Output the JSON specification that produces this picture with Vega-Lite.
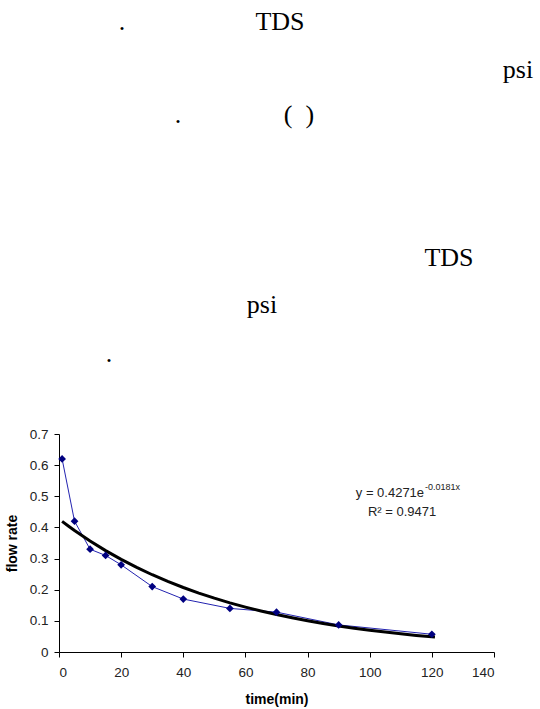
{
  "$schema": "https://vega.github.io/schema/vega-lite/v6.json",
  "background": "white",
  "padding": {"left": 5, "top": 0, "right": 0, "bottom": 0},
  "spacing": 47,
  "config": {
    "view": {"stroke": null},
    "axis": {
      "grid": false,
      "domainColor": "black",
      "domainWidth": 1,
      "tickColor": "black",
      "tickWidth": 1,
      "tickSize": 5,
      "labelFont": "Liberation Sans",
      "labelFontSize": 13.5,
      "labelColor": "#222222",
      "titleFont": "Liberation Sans",
      "titleFontSize": 14,
      "titleFontWeight": "bold",
      "titleColor": "black"
    }
  },
  "datasets": {
    "page": [
      {"text": ".", "col": 125, "line": 30},
      {"text": "TDS", "col": 283, "line": 30},
      {"text": "psi", "col": 521, "line": 78},
      {"text": ".", "col": 181, "line": 123},
      {"text": "(\u00a0\u00a0)", "col": 302, "line": 123},
      {"text": "TDS", "col": 452, "line": 266},
      {"text": "psi", "col": 265, "line": 313},
      {"text": ".", "col": 112, "line": 362}
    ],
    "flow": [
      {"time": 1, "rate": 0.62},
      {"time": 5, "rate": 0.42},
      {"time": 10, "rate": 0.33},
      {"time": 15, "rate": 0.31},
      {"time": 20, "rate": 0.28},
      {"time": 30, "rate": 0.21},
      {"time": 40, "rate": 0.17},
      {"time": 55, "rate": 0.14},
      {"time": 70, "rate": 0.128},
      {"time": 90, "rate": 0.087},
      {"time": 120, "rate": 0.057}
    ],
    "trend": [
      {"time": 1, "rate": 0.4194},
      {"time": 3, "rate": 0.4045},
      {"time": 5, "rate": 0.3901},
      {"time": 10, "rate": 0.3564},
      {"time": 15, "rate": 0.3256},
      {"time": 20, "rate": 0.2974},
      {"time": 25, "rate": 0.2717},
      {"time": 30, "rate": 0.2481},
      {"time": 35, "rate": 0.2267},
      {"time": 40, "rate": 0.2071},
      {"time": 45, "rate": 0.1891},
      {"time": 50, "rate": 0.1728},
      {"time": 55, "rate": 0.1578},
      {"time": 60, "rate": 0.1442},
      {"time": 65, "rate": 0.1317},
      {"time": 70, "rate": 0.1203},
      {"time": 75, "rate": 0.1099},
      {"time": 80, "rate": 0.1004},
      {"time": 85, "rate": 0.0917},
      {"time": 90, "rate": 0.0838},
      {"time": 95, "rate": 0.0765},
      {"time": 100, "rate": 0.0699},
      {"time": 105, "rate": 0.0639},
      {"time": 110, "rate": 0.0583},
      {"time": 115, "rate": 0.0533},
      {"time": 121, "rate": 0.0479}
    ],
    "eq": [
      {"part": "main", "text": "y = 0.4271e", "time": 117.5, "rate": 0.498},
      {"part": "sup", "text": "-0.0181x", "time": 117.8, "rate": 0.52},
      {"part": "r2", "text": "R\u00b2 = 0.9471", "time": 110.4, "rate": 0.437}
    ]
  },
  "vconcat": [
    {
      "width": 435,
      "height": 380,
      "data": {"name": "page"},
      "mark": {"type": "text", "font": "Liberation Serif", "fontSize": 26, "align": "center", "baseline": "alphabetic", "color": "black"},
      "encoding": {
        "x": {"field": "col", "type": "quantitative", "scale": {"domain": [62, 497], "nice": false, "zero": false}, "axis": null},
        "y": {"field": "line", "type": "quantitative", "scale": {"domain": [0, 380], "reverse": true, "nice": false, "zero": false}, "axis": null},
        "text": {"field": "text"}
      }
    },
    {
      "width": 435,
      "height": 218,
      "encoding": {
        "x": {
          "field": "time",
          "type": "quantitative",
          "scale": {"domain": [0, 140], "nice": false},
          "axis": {"title": "time(min)", "values": [0, 20, 40, 60, 80, 100, 120, 140], "labelPadding": 8, "titlePadding": 14, "format": "d"}
        },
        "y": {
          "field": "rate",
          "type": "quantitative",
          "scale": {"domain": [0, 0.7], "nice": false},
          "axis": {"title": "flow rate", "values": [0, 0.1, 0.2, 0.3, 0.4, 0.5, 0.6, 0.7], "format": "~g", "labelPadding": 6, "titlePadding": 10}
        }
      },
      "layer": [
        {
          "data": {"name": "flow"},
          "mark": {"type": "line", "color": "#2323b0", "strokeWidth": 1}
        },
        {
          "data": {"name": "trend"},
          "mark": {"type": "line", "color": "black", "strokeWidth": 3}
        },
        {
          "data": {"name": "flow"},
          "mark": {"type": "point", "shape": "diamond", "filled": true, "color": "#000080", "size": 60, "opacity": 1}
        },
        {
          "data": {"name": "eq"},
          "transform": [{"filter": "datum.part == 'main'"}],
          "mark": {"type": "text", "font": "Liberation Sans", "fontSize": 13, "align": "right", "baseline": "alphabetic", "color": "#222222"},
          "encoding": {"text": {"field": "text"}}
        },
        {
          "data": {"name": "eq"},
          "transform": [{"filter": "datum.part == 'sup'"}],
          "mark": {"type": "text", "font": "Liberation Sans", "fontSize": 9, "align": "left", "baseline": "alphabetic", "color": "#222222"},
          "encoding": {"text": {"field": "text"}}
        },
        {
          "data": {"name": "eq"},
          "transform": [{"filter": "datum.part == 'r2'"}],
          "mark": {"type": "text", "font": "Liberation Sans", "fontSize": 13, "align": "center", "baseline": "alphabetic", "color": "#222222"},
          "encoding": {"text": {"field": "text"}}
        }
      ]
    }
  ]
}
